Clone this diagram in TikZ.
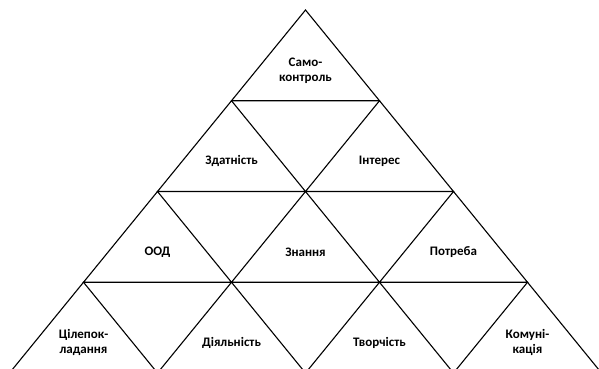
\documentclass[tikz,border=0pt]{standalone}
\usepackage{fontspec}
\setmainfont{Carlito}
\begin{document}
\begin{tikzpicture}[x=1pt,y=-1pt,
  cell/.style={draw=black,line width=1.1pt,line join=miter},
  lbl/.style={font=\bfseries\fontsize{13}{15}\selectfont,align=center,inner sep=0pt}]
\useasboundingbox (0,0) rectangle (599,369);
\clip (0,0) rectangle (599,369);
\def\hw{74}
\def\rh{90.75}
\foreach \r in {0,1,2,3}{
  \foreach \k in {0,...,\r}{
    \pgfmathsetmacro{\ax}{305.5+\hw*(2*\k-\r)}
    \pgfmathsetmacro{\ay}{10+\rh*\r}
    \coordinate (t\r\k) at (\ax,\ay);
    \draw[cell] (t\r\k) -- ++(-\hw,\rh) -- ++(2*\hw,0) -- cycle;
    \coordinate (c\r\k) at (\ax,\ay+60.5);
  }
}
\node[lbl] (n00) at (c00) {Само-\\контроль};
\node[lbl] (n10) at (c10) {Здатність};
\node[lbl] (n11) at (c11) {Інтерес};
\node[lbl] (n20) at (c20) {ООД};
\node[lbl] (n21) at (c21) {Знання};
\node[lbl] (n22) at (c22) {Потреба};
\node[lbl] (n30) at (c30) {Цілепок-\\ладання};
\node[lbl] (n31) at (c31) {Діяльність};
\node[lbl] (n32) at (c32) {Творчість};
\node[lbl] (n33) at (c33) {Комуні-\\кація};
\end{tikzpicture}
\end{document}
